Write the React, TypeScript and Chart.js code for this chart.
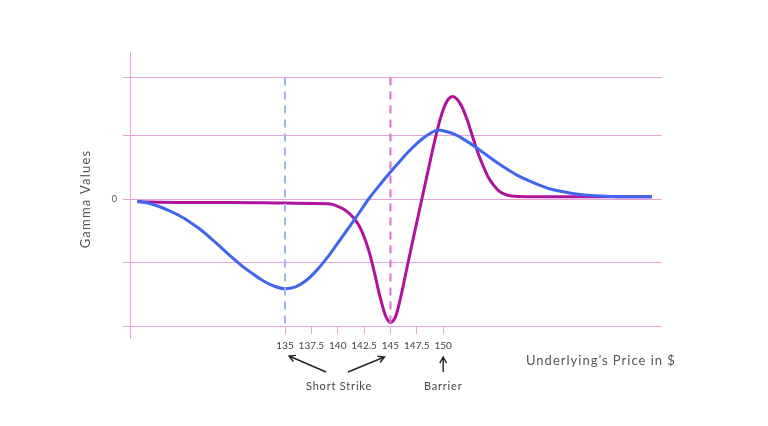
import React, { useEffect, useRef } from 'react';
import { Chart, registerables } from 'chart.js';

Chart.register(...registerables);

// Underlying prices (x) and gamma values (y)
const callX = [121, 122, 123, 124, 125, 126, 127, 128, 129, 130, 131, 132, 133, 134, 135, 136, 137, 138, 139, 140, 141, 142, 143, 144, 145, 146, 147, 148, 149, 149.5, 150, 151, 152, 153, 154, 155, 156, 157, 158, 159, 160, 161, 162, 163, 164, 165, 166, 168, 169.8];
const callGamma = [-0.03, -0.06, -0.11, -0.18, -0.26, -0.36, -0.48, -0.62, -0.77, -0.92, -1.06, -1.18, -1.29, -1.37, -1.41, -1.38, -1.28, -1.12, -0.92, -0.69, -0.46, -0.22, 0.02, 0.23, 0.43, 0.62, 0.8, 0.95, 1.06, 1.09, 1.08, 1.03, 0.94, 0.83, 0.71, 0.59, 0.48, 0.38, 0.3, 0.23, 0.17, 0.13, 0.1, 0.075, 0.06, 0.05, 0.045, 0.04, 0.04];

const barrierX = [121, 125, 130, 135, 139, 139.5, 140, 140.5, 141, 141.5, 142, 142.5, 143, 143.5, 144, 144.5, 145, 145.5, 146, 146.5, 147, 147.5, 148, 148.5, 149, 149.5, 150, 150.5, 150.9, 151.3, 151.8, 152.3, 152.8, 153.3, 153.8, 154.3, 154.8, 155.3, 155.8, 156.5, 158, 169.8];
const barrierGamma = [-0.04, -0.05, -0.05, -0.06, -0.07, -0.08, -0.11, -0.15, -0.21, -0.29, -0.41, -0.59, -0.84, -1.17, -1.53, -1.82, -1.94, -1.84, -1.52, -1.13, -0.74, -0.36, 0.02, 0.4, 0.78, 1.13, 1.41, 1.58, 1.62, 1.58, 1.45, 1.24, 0.98, 0.73, 0.52, 0.34, 0.22, 0.13, 0.08, 0.05, 0.04, 0.04];

const shortStrike = 135;
const barrierStrike = 145;
const barrierLevel = 150;
const priceTicks = [135, 137.5, 140, 142.5, 145, 147.5, 150];
const gammaTicks = [-2, -1, 0, 1, 1.92];

const GRID = '#e3a6dc';
const FONT = 'Lato, "Open Sans", sans-serif';

const annotations = {
  id: 'annotations',
  afterDraw(chart: Chart) {
    const { ctx } = chart;
    const x = chart.scales.x;
    const c = ctx as any;
    ctx.save();
    ctx.fillStyle = '#555';
    ctx.textBaseline = 'middle';

    // y title
    ctx.save();
    ctx.translate(86, 199);
    ctx.rotate(-Math.PI / 2);
    ctx.textAlign = 'center';
    ctx.font = `13px ${FONT}`;
    c.letterSpacing = '1.2px';
    ctx.fillText('Gamma Values', 0, 0);
    ctx.restore();

    // x title
    ctx.textAlign = 'left';
    ctx.font = `13px ${FONT}`;
    c.letterSpacing = '1px';
    ctx.fillText('Underlying\u2019s Price in $', 526, 361);

    // labels under axis
    ctx.textAlign = 'center';
    ctx.font = `11px ${FONT}`;
    c.letterSpacing = '0.8px';
    ctx.fillStyle = '#444';
    ctx.fillText('Short Strike', 339, 386);
    const bx = x.getPixelForValue(barrierLevel);
    ctx.fillText('Barrier', bx, 386);

    const arrow = (x1: number, y1: number, x2: number, y2: number) => {
      const a = Math.atan2(y2 - y1, x2 - x1);
      ctx.beginPath();
      ctx.moveTo(x1, y1);
      ctx.lineTo(x2, y2);
      ctx.moveTo(x2 - 7 * Math.cos(a - 0.5), y2 - 7 * Math.sin(a - 0.5));
      ctx.lineTo(x2, y2);
      ctx.lineTo(x2 - 7 * Math.cos(a + 0.5), y2 - 7 * Math.sin(a + 0.5));
      ctx.stroke();
    };
    ctx.strokeStyle = '#222';
    ctx.lineWidth = 1.4;
    const sx = x.getPixelForValue(shortStrike);
    const kx = x.getPixelForValue(barrierStrike);
    arrow(326, 372, sx + 4, 356);
    arrow(348, 372, kx - 6, 357);
    arrow(bx, 372, bx, 357);
    ctx.restore();
  },
};

const App: React.FC = () => {
  const canvasRef = useRef<HTMLCanvasElement>(null);

  useEffect(() => {
    if (!canvasRef.current) return;
    const yTop = gammaTicks[gammaTicks.length - 1];
    const yBottom = gammaTicks[0];
    const chart = new Chart(canvasRef.current, {
      type: 'line',
      data: {
        datasets: [
          {
            label: 'Short strike',
            data: [{ x: shortStrike, y: yTop }, { x: shortStrike, y: yBottom }],
            borderColor: '#a3b6f4',
            borderWidth: 2,
            borderDash: [8, 6],
            pointRadius: 0,
          },
          {
            label: 'Barrier strike',
            data: [{ x: barrierStrike, y: yTop }, { x: barrierStrike, y: yBottom }],
            borderColor: '#d672cd',
            borderWidth: 2,
            borderDash: [8, 6],
            pointRadius: 0,
          },
          {
            label: 'Vanilla gamma',
            data: callX.map((v, i) => ({ x: v, y: callGamma[i] })),
            borderColor: '#3f66ee',
            borderWidth: 3,
            pointRadius: 0,
            cubicInterpolationMode: 'monotone',
          },
          {
            label: 'Barrier gamma',
            data: barrierX.map((v, i) => ({ x: v, y: barrierGamma[i] })),
            borderColor: '#b0129e',
            borderWidth: 3,
            pointRadius: 0,
            cubicInterpolationMode: 'monotone',
          },
        ],
      },
      options: {
        animation: false,
        responsive: true,
        maintainAspectRatio: false,
        layout: { padding: { top: 52, bottom: 88, left: 0, right: 106 } },
        plugins: { legend: { display: false }, tooltip: { enabled: false } },
        scales: {
          x: {
            type: 'linear',
            min: 120.3,
            max: 170.75,
            position: { y: -2 } as any,
            afterBuildTicks: (axis) => {
              axis.ticks = priceTicks.map((v) => ({ value: v }));
            },
            grid: { drawOnChartArea: false, color: GRID, tickLength: 8 },
            border: { display: false },
            ticks: {
              autoSkip: false,
              maxRotation: 0,
              padding: 6,
              color: '#444',
              font: { family: FONT, size: 10 },
              callback: (v) => String(v),
            },
          },
          y: {
            type: 'linear',
            min: -2.185,
            max: 2.32,
            afterFit: (axis) => {
              axis.width = 130;
            },
            afterBuildTicks: (axis) => {
              axis.ticks = gammaTicks.map((v) => ({ value: v }));
            },
            grid: { color: GRID, tickLength: 7 },
            border: { color: GRID },
            ticks: {
              padding: 6,
              color: '#555',
              font: { family: FONT, size: 9 },
              callback: (v) => (v === 0 ? '0' : ''),
            },
          },
        },
      },
      plugins: [annotations],
    });
    return () => chart.destroy();
  }, []);

  return (
    <div style={{ position: 'absolute', left: 0, top: 0, width: 768, height: 426, background: '#fff' }}>
      <canvas ref={canvasRef}></canvas>
    </div>
  );
};

export default App;
